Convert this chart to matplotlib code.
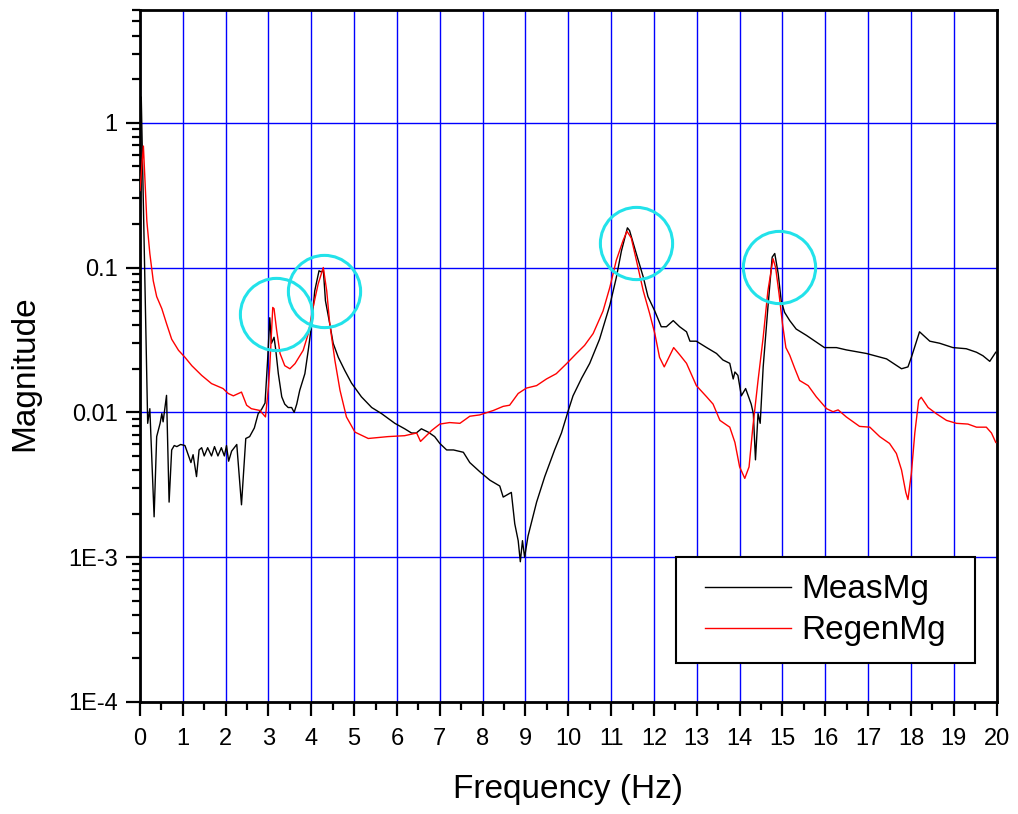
import matplotlib
matplotlib.use("Agg")
import matplotlib.pyplot as plt
from matplotlib.patches import Rectangle
from matplotlib.ticker import FixedLocator, FuncFormatter, LogLocator, MultipleLocator, NullFormatter

plt.rcParams["font.family"] = ["Liberation Sans", "DejaVu Sans"]

# measured magnitude (black)
meas_freq = [0.03, 0.18, 0.23, 0.33, 0.39, 0.47, 0.51, 0.54, 0.62, 0.68, 0.74, 0.80, 0.86, 0.95, 1.05,
             1.19, 1.24, 1.32, 1.38, 1.44, 1.50, 1.58, 1.67, 1.74, 1.82, 1.90, 1.97, 2.02, 2.07, 2.14,
             2.26, 2.37, 2.47, 2.56, 2.67, 2.76, 2.84, 2.92, 2.98, 3.03, 3.07, 3.13, 3.17, 3.23, 3.31,
             3.38, 3.46, 3.54, 3.60, 3.66, 3.73, 3.85, 3.93, 4.01, 4.08, 4.18, 4.24, 4.28, 4.33, 4.43,
             4.51, 4.63, 4.78, 4.94, 5.17, 5.41, 5.64, 5.95, 6.18, 6.34, 6.45, 6.57, 6.73, 6.88, 7.0,
             7.16, 7.32, 7.55, 7.7, 7.93, 8.17, 8.4, 8.48, 8.67, 8.75, 8.83, 8.88, 8.93, 8.98, 9.06,
             9.26, 9.45, 9.68, 9.84, 10.0, 10.11, 10.31, 10.5, 10.73, 10.97, 11.12, 11.24, 11.38, 11.43,
             11.59, 11.75, 11.86, 12.02, 12.17, 12.29, 12.45, 12.6, 12.76, 12.84, 12.99, 13.23, 13.46,
             13.61, 13.77, 13.85, 13.89, 13.96, 14.04, 14.14, 14.27, 14.32, 14.37, 14.43, 14.48, 14.55,
             14.66, 14.76, 14.82, 14.9, 14.97, 15.05, 15.17, 15.32, 15.56, 15.79, 15.98, 16.26, 16.49,
             16.96, 17.43, 17.78, 17.93, 18.01, 18.2, 18.44, 18.67, 18.98, 19.29, 19.53, 19.68, 19.84,
             19.98]
meas_mag = [1.5, 0.0084, 0.0106, 0.0019, 0.0068, 0.0084, 0.0098, 0.0086, 0.0131, 0.0024, 0.0055, 0.0059,
            0.0058, 0.0060, 0.0059, 0.0045, 0.0051, 0.0036, 0.0055, 0.0057, 0.0050, 0.0057, 0.0050,
            0.0058, 0.0050, 0.0057, 0.0050, 0.0059, 0.0046, 0.0054, 0.0060, 0.0023, 0.0066, 0.0068,
            0.0078, 0.0098, 0.0105, 0.0116, 0.023, 0.045, 0.030, 0.033, 0.027, 0.0185, 0.0128, 0.0114,
            0.0108, 0.0108, 0.0100, 0.0114, 0.0142, 0.0185, 0.027, 0.041, 0.069, 0.095, 0.093, 0.097,
            0.059, 0.041, 0.030, 0.024, 0.0195, 0.0159, 0.0128, 0.0108, 0.0098, 0.0084, 0.0077, 0.0072,
            0.0072, 0.0077, 0.0073, 0.0068, 0.0061, 0.0055, 0.0055, 0.0053, 0.0045, 0.0039, 0.0034,
            0.0031, 0.0026, 0.0028, 0.0017, 0.0013, 0.00093, 0.0013, 0.0010, 0.0014, 0.0024, 0.0036,
            0.0055, 0.0072, 0.0103, 0.0130, 0.0172, 0.0218, 0.032, 0.055, 0.085, 0.13, 0.188, 0.18,
            0.124, 0.086, 0.063, 0.050, 0.039, 0.039, 0.043, 0.039, 0.036, 0.031, 0.031, 0.028, 0.0255,
            0.023, 0.0218, 0.017, 0.019, 0.018, 0.0130, 0.0146, 0.0114, 0.0098, 0.0047, 0.0098, 0.0084,
            0.0206, 0.053, 0.118, 0.125, 0.091, 0.059, 0.049, 0.043, 0.0376, 0.034, 0.0306, 0.028,
            0.028, 0.027, 0.0255, 0.0234, 0.020, 0.0206, 0.024, 0.036, 0.031, 0.030, 0.028, 0.0275,
            0.026, 0.0246, 0.0225, 0.026]

# regenerated magnitude (red)
regen_freq = [0.0, 0.08, 0.16, 0.23, 0.31, 0.39, 0.51, 0.62, 0.74, 0.9, 1.05, 1.21, 1.44, 1.67, 1.94,
              2.06, 2.18, 2.37, 2.49, 2.6, 2.8, 2.93, 3.0, 3.03, 3.1, 3.13, 3.19, 3.27, 3.38, 3.5, 3.62,
              3.81, 3.93, 4.04, 4.16, 4.28, 4.36, 4.43, 4.55, 4.67, 4.82, 5.02, 5.33, 5.79, 6.18, 6.46,
              6.55, 6.81, 7.0, 7.23, 7.47, 7.7, 7.93, 8.25, 8.48, 8.63, 8.83, 9.02, 9.26, 9.49, 9.72,
              9.96, 10.19, 10.38, 10.58, 10.81, 10.97, 11.12, 11.28, 11.37, 11.47, 11.59, 11.75, 11.9,
              12.02, 12.13, 12.24, 12.35, 12.46, 12.6, 12.76, 12.99, 13.23, 13.38, 13.54, 13.77, 13.89,
              14.0, 14.12, 14.22, 14.31, 14.43, 14.55, 14.66, 14.78, 14.84, 14.92, 15.0, 15.08, 15.17,
              15.29, 15.4, 15.6, 15.79, 16.03, 16.18, 16.3, 16.49, 16.8, 17.04, 17.27, 17.5, 17.66,
              17.78, 17.88, 17.93, 18.01, 18.09, 18.18, 18.24, 18.4, 18.59, 18.83, 19.06, 19.33, 19.53,
              19.76, 19.88, 19.98]
regen_mag = [0.34, 0.69, 0.21, 0.125, 0.081, 0.063, 0.052, 0.041, 0.032, 0.0268, 0.024, 0.021, 0.018,
             0.0158, 0.0146, 0.0135, 0.013, 0.0138, 0.0112, 0.0106, 0.0103, 0.0093, 0.015, 0.0205,
             0.053, 0.052, 0.037, 0.0255, 0.021, 0.020, 0.0217, 0.0268, 0.035, 0.053, 0.077, 0.1,
             0.069, 0.041, 0.0229, 0.0142, 0.0093, 0.0073, 0.0066, 0.0068, 0.0069, 0.0072, 0.0063,
             0.0075, 0.0083, 0.0085, 0.0084, 0.0094, 0.0096, 0.0103, 0.0110, 0.0112, 0.0135, 0.0147,
             0.0153, 0.017, 0.0185, 0.0217, 0.0255, 0.029, 0.035, 0.05, 0.073, 0.112, 0.154, 0.178,
             0.16, 0.112, 0.069, 0.048, 0.035, 0.024, 0.0206, 0.024, 0.028, 0.025, 0.0218, 0.0153,
             0.0128, 0.0114, 0.0088, 0.0079, 0.0062, 0.0042, 0.0035, 0.0042, 0.008, 0.0166, 0.033,
             0.069, 0.115, 0.1, 0.066, 0.041, 0.028, 0.0248, 0.020, 0.0166, 0.0153, 0.0128, 0.0106,
             0.0101, 0.0104, 0.0093, 0.008, 0.0079, 0.0068, 0.0061, 0.0052, 0.004, 0.0028, 0.0025,
             0.0038, 0.0072, 0.0121, 0.0127, 0.0108, 0.0098, 0.0088, 0.0084, 0.0083, 0.0079, 0.0079,
             0.0072, 0.0062]

# highlighted resonance peaks
circle_freq = [3.17, 4.29, 11.57, 14.93]
circle_mag = [0.0474, 0.069, 0.148, 0.1005]

ytick_vals = [1e-4, 1e-3, 1e-2, 1e-1, 1]
ytick_text = ["1E-4", "1E-3", "0.01", "0.1", "1"]

fig = plt.figure(figsize=(10.18, 8.14), dpi=100)
ax = fig.add_axes([0.1375, 0.1376, 0.8415, 0.8501])

ax.plot(meas_freq, meas_mag, color="black", linewidth=1.0, label="MeasMg", zorder=3)
ax.plot(regen_freq, regen_mag, color="red", linewidth=1.0, label="RegenMg", zorder=3)
ax.plot(circle_freq, circle_mag, linestyle="none", marker="o", markersize=52,
        markerfacecolor="none", markeredgecolor="#22e2ea", markeredgewidth=2.2, zorder=4)

ax.set_yscale("log")
ax.set_xlim(0, 20)
ax.set_ylim(1e-4, 6)

ax.xaxis.set_major_locator(MultipleLocator(1))
ax.xaxis.set_minor_locator(MultipleLocator(0.5))
ax.yaxis.set_major_locator(FixedLocator(ytick_vals))
ax.yaxis.set_minor_locator(LogLocator(base=10, subs=range(2, 10)))
ax.yaxis.set_minor_formatter(NullFormatter())
ax.yaxis.set_major_formatter(FuncFormatter(lambda v, p: ytick_text[ytick_vals.index(v)] if v in ytick_vals else ""))

ax.grid(True, which="major", color="#0000ff", linewidth=1.0)
ax.set_axisbelow(True)

for s in ax.spines.values():
    s.set_linewidth(2.0)
ax.tick_params(which="major", direction="out", length=10, width=1.6, labelsize=17, pad=9)
ax.tick_params(which="minor", direction="out", length=6, width=1.6)
ax.tick_params(axis="y", which="major", pad=6)

ax.set_xlabel("Frequency (Hz)", fontsize=24)
ax.set_ylabel("Magnitude", fontsize=24)
ax.xaxis.set_label_coords(0.5, -0.127)
ax.yaxis.set_label_coords(-0.134, 0.4755)
ax.xaxis.label.set_verticalalignment("center")
ax.yaxis.label.set_verticalalignment("center")

# legend box drawn separately so its padding matches the original
box = (0.6255, 0.056, 0.349, 0.153)
ax.add_patch(Rectangle(box[:2], box[2], box[3], transform=ax.transAxes, facecolor="white",
                       edgecolor="black", linewidth=1.5, zorder=5))
leg = ax.legend(loc="center", bbox_to_anchor=box, borderaxespad=0, fontsize=24, frameon=False,
                handlelength=2.6, handletextpad=0.3, labelspacing=0.3, borderpad=0.3)
leg.set_zorder(6)

fig.savefig("out.png", dpi=100)
